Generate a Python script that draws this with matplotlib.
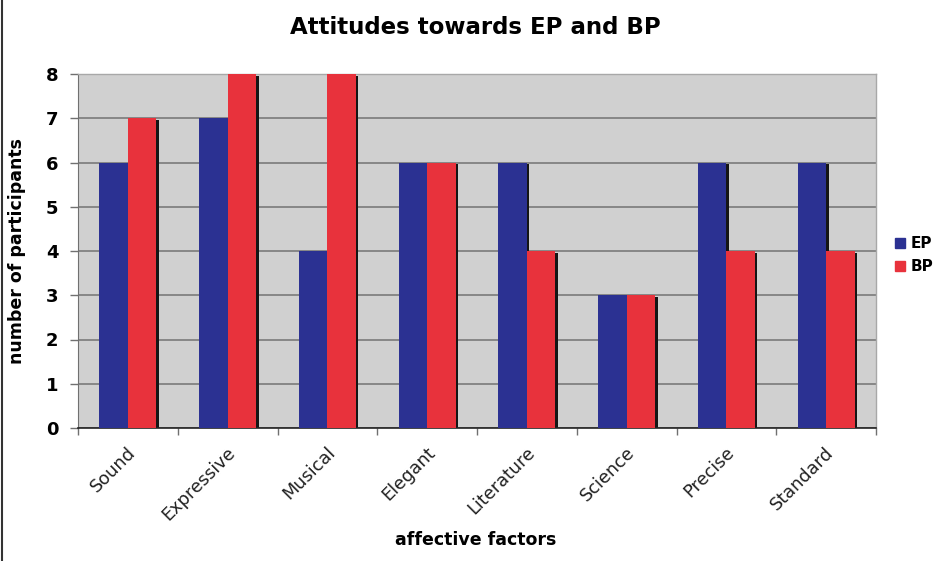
import numpy as np
import matplotlib
matplotlib.use("Agg")
import matplotlib.pyplot as plt
import matplotlib.transforms as mtransforms
from matplotlib.lines import Line2D

# -----------------------
# Data
# -----------------------
categories = ["Sound", "Expressive", "Musical", "Elegant",
              "Literature", "Science", "Precise", "Standard"]
ep_values = [6, 7, 4, 6, 6, 3, 6, 6]
bp_values = [7, 8, 8, 6, 4, 3, 4, 4]
series_names = ["EP", "BP"]
y_ticks = [0, 1, 2, 3, 4, 5, 6, 7, 8]

ep_color = "#2B3192"
bp_color = "#E8323C"
plot_bg = "#D0D0D0"

fig = plt.figure(figsize=(9.35, 5.61), dpi=100)
ax = fig.add_axes([78 / 935, 1 - 428 / 561, (876 - 78) / 935, (428 - 74) / 561])
ax.set_facecolor(plot_bg)

x = np.arange(len(categories))
w = 0.285

# shadows behind bars (Excel-style dark right edge)
for vals, off in ((ep_values, -w / 2), (bp_values, w / 2)):
    ax.bar(x + off + 0.025, np.array(vals) - 0.04, w, bottom=0, color="#151515", zorder=2)

ax.bar(x - w / 2, ep_values, w, color=ep_color, zorder=3, label=series_names[0])
ax.bar(x + w / 2, bp_values, w, color=bp_color, zorder=3, label=series_names[1])

ax.set_xlim(-0.5, len(categories) - 0.5)
ax.set_ylim(0, 8)
ax.set_yticks(y_ticks)
ax.yaxis.grid(True, color="#7a7a7a", linewidth=1.2, zorder=1)
ax.set_axisbelow(True)

for s in ["top", "right"]:
    ax.spines[s].set_color("#a8a8a8")
    ax.spines[s].set_linewidth(1)
ax.spines["left"].set_color("#707070")
ax.spines["bottom"].set_color("#222222")
ax.spines["bottom"].set_linewidth(1.2)

ax.tick_params(axis="y", length=6, width=1, color="#707070", labelsize=13, pad=8)
for lab in ax.get_yticklabels():
    lab.set_fontweight("bold")

# x ticks at group boundaries, labels at centers
ax.set_xticks(np.arange(len(categories) + 1) - 0.5)
ax.set_xticklabels([])
ax.tick_params(axis="x", length=5, width=1, color="#707070")

offset = mtransforms.ScaledTranslation(0.05, -0.22, fig.dpi_scale_trans)
for i, c in enumerate(categories):
    ax.text(i, 0, c, transform=ax.get_xaxis_transform() + offset,
            rotation=45, rotation_mode="anchor", ha="right", va="center",
            fontsize=12.8, color="#222222")

fig.text(476 / 935, 1 - 540 / 561, "affective factors", ha="center", va="center",
         fontsize=12.5, fontweight="bold")
ax.set_ylabel("number of participants", fontsize=12.5, fontweight="bold", labelpad=14)

fig.suptitle("Attitudes towards EP and BP", x=0.508, y=0.972,
             fontsize=16.5, fontweight="bold")

handles = [Line2D([0], [0], marker="s", color="none", markerfacecolor=ep_color,
                  markeredgecolor=ep_color, markersize=7),
           Line2D([0], [0], marker="s", color="none", markerfacecolor=bp_color,
                  markeredgecolor=bp_color, markersize=7)]
leg = fig.legend(handles, series_names, loc="center left",
                 bbox_to_anchor=(0.951, 0.545), frameon=False,
                 handlelength=0.6, handletextpad=0.4, labelspacing=0.5,
                 borderaxespad=0, prop={"weight": "bold", "size": 11})

# left border of the figure
fig.add_artist(Line2D([0.002, 0.002], [0, 1], transform=fig.transFigure,
                      color="#333333", linewidth=1.5))

fig.savefig("out.png", dpi=100)
